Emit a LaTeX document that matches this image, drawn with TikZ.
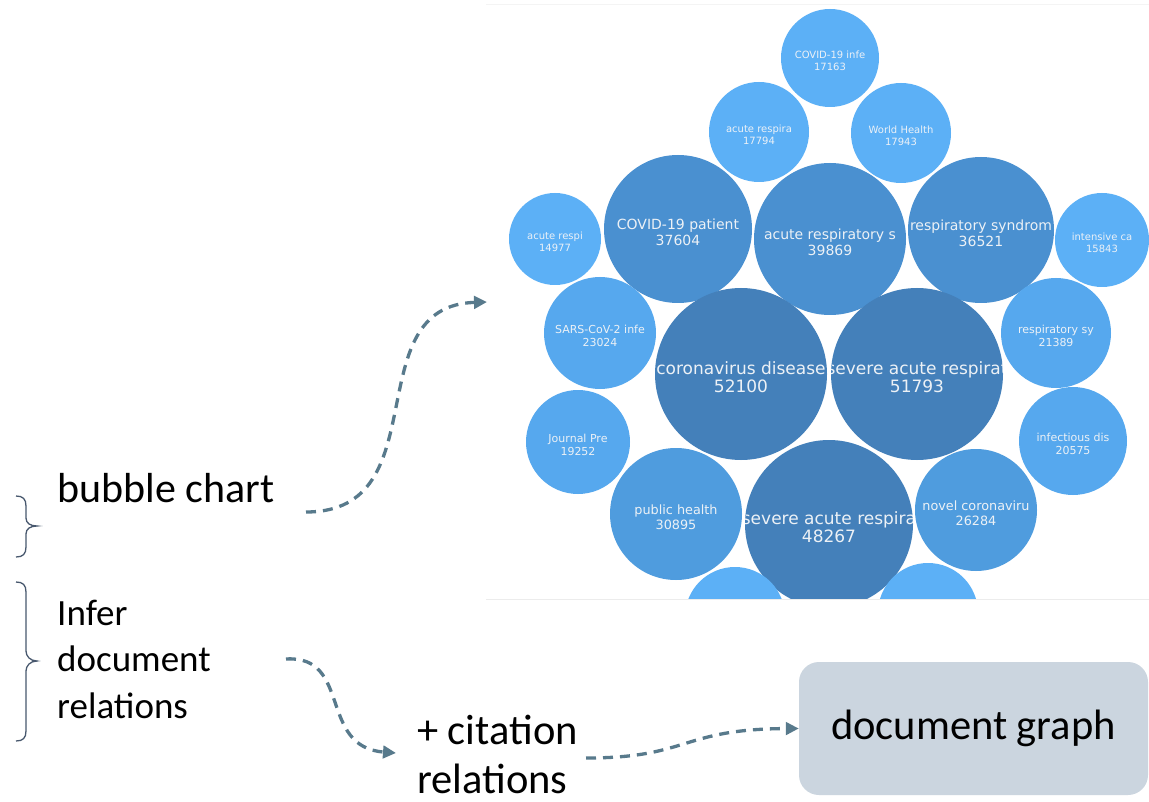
\documentclass[tikz,border=0pt]{standalone}
\usepackage{fontspec}
\setmainfont{Carlito}
\newfontfamily\chartfont{DejaVu Sans}
\usetikzlibrary{arrows.meta,calc}
\definecolor{arrowc}{RGB}{88,122,140}
\definecolor{bracec}{RGB}{72,88,110}
\definecolor{bubA}{RGB}{92,176,246}
\definecolor{bubB}{RGB}{86,168,238}
\definecolor{bubC}{RGB}{79,156,222}
\definecolor{bubD}{RGB}{74,144,208}
\definecolor{bubE}{RGB}{68,128,186}
\definecolor{boxc}{RGB}{203,213,223}
\definecolor{btext}{RGB}{236,241,246}
\definecolor{framec}{RGB}{236,236,236}
\tikzset{
  bubtxt/.style={text=btext, align=center, inner sep=0pt},
  bubS/.style={bubtxt, font=\chartfont\fontsize{10pt}{11.5pt}\selectfont},
  bubM/.style={bubtxt, font=\chartfont\fontsize{11pt}{12.5pt}\selectfont},
  bubML/.style={bubtxt, font=\chartfont\fontsize{12.8pt}{14.5pt}\selectfont},
  bubL/.style={bubtxt, font=\chartfont\fontsize{14pt}{16pt}\selectfont},
  bubXL/.style={bubtxt, font=\chartfont\fontsize{17pt}{18.5pt}\selectfont},
  lblbig/.style={inner sep=0pt, anchor=base west, font=\fontsize{42pt}{48pt}\selectfont},
  lblmid/.style={inner sep=0pt, anchor=base west, font=\fontsize{37pt}{44pt}\selectfont},
  lblcit/.style={inner sep=0pt, anchor=base west, font=\fontsize{42.5pt}{48pt}\selectfont},
  graphbox/.style={fill=boxc, rounded corners=20pt, minimum width=349pt, minimum height=133pt, inner sep=0pt, font=\fontsize{42.5pt}{48pt}\selectfont},
  flow/.style={draw=arrowc, line width=3.3pt, dash pattern=on 10pt off 7pt, -{Triangle[length=13pt,width=12.5pt]}},
  bracestyle/.style={draw=bracec, line width=1.3pt}
}
\newcommand\bubbleat[7]{%
  \fill[#5] (#2,#3) circle (#4pt);
  \begin{scope}
    \clip (#2,#3) circle (#4pt);
    \node[#6] (#1) at (#2,#3+3) {#7};
  \end{scope}}
\begin{document}
\begin{tikzpicture}[x=1pt,y=-1pt]
\useasboundingbox (0,0) rectangle (1149,802);
\fill[white] (0,0) rectangle (1149,802);
% chart frame lines
\draw[framec, line width=1pt] (486,599) -- (1149,599);
\draw[framec!60, line width=1pt] (486,5) -- (1149,5);
% bubble chart
\begin{scope}
\clip (486,0) rectangle (1149,598.5);
\bubbleat{b1}{830}{58}{49}{bubA}{bubS}{COVID-19 infe\\17163}
\bubbleat{b2}{759}{132}{50}{bubA}{bubS}{acute respira\\17794}
\bubbleat{b3}{901}{133}{50}{bubA}{bubS}{World Health\\17943}
\bubbleat{b4}{678}{229}{74}{bubD}{bubL}{COVID-19 patient\\37604}
\bubbleat{b5}{830}{239}{76}{bubD}{bubL}{acute respiratory s\\39869}
\bubbleat{b6}{981}{230}{73}{bubD}{bubL}{respiratory syndrom\\36521}
\bubbleat{b7}{555}{239}{46}{bubA}{bubS}{acute respi\\14977}
\bubbleat{b8}{1102}{240}{47}{bubA}{bubS}{intensive ca\\15843}
\bubbleat{b9}{600}{333}{56}{bubB}{bubM}{SARS-CoV-2 infe\\23024}
\bubbleat{b10}{741}{374}{86}{bubE}{bubXL}{coronavirus disease\\52100}
\bubbleat{b11}{917}{374}{86}{bubE}{bubXL}{severe acute respirat\\51793}
\bubbleat{b12}{1056}{333}{55}{bubB}{bubM}{respiratory sy\\21389}
\bubbleat{b13}{578}{442}{52}{bubB}{bubM}{Journal Pre\\19252}
\bubbleat{b14}{1073}{441}{54}{bubB}{bubM}{infectious dis\\20575}
\bubbleat{b15}{676}{514}{66}{bubC}{bubML}{public health\\30895}
\bubbleat{b16}{829}{524}{84}{bubE}{bubXL}{severe acute respira\\48267}
\bubbleat{b17}{976}{510}{61}{bubC}{bubML}{novel coronaviru\\26284}
\bubbleat{b18}{735}{617}{50}{bubA}{bubS}{}
\bubbleat{b19}{928}{613}{50}{bubA}{bubS}{}
\end{scope}
% braces
\draw[bracestyle] (16,496) .. controls (23,496) and (26,499) .. (26,506) -- (26,518)
  .. controls (26,523) and (30,526) .. (37,526) .. controls (30,526) and (26,529) .. (26,534)
  -- (26,547) .. controls (26,554) and (23,557) .. (16,557);
\draw[bracestyle] (16,582) .. controls (23,582) and (26,585) .. (26,592) -- (26,651)
  .. controls (26,656) and (30,661) .. (37,661) .. controls (30,661) and (26,666) .. (26,671)
  -- (26,731) .. controls (26,738) and (23,741) .. (16,741);
% labels
\node[lblbig] (bubble) at (57,502) {bubble chart};
\node[lblmid] (infer) at (57,625) {Infer};
\node[lblmid] (doc) at (57,671) {document};
\node[lblmid] (rel) at (57,718) {relations};
\node[lblcit] (cit) at (417,744) {+ citation};
\node[lblcit] (citrel) at (417,793) {relations};
\node[graphbox] (graph) at (973.5,728.5) {document graph};
% connectors
\coordinate (a1s) at (306,512);
\coordinate (a1e) at (487,302);
\coordinate (a2s) at (286,659);
\coordinate (a2e) at (396,753);
\coordinate (a3s) at (586,758);
\draw[flow] (a1s) .. controls (440,512) and (355,306) .. (a1e);
\draw[flow] (a2s) .. controls (352,655) and (318,747) .. (a2e);
\draw[flow] (a3s) .. controls (690,758) and (680,729) .. (graph.west);
\end{tikzpicture}
\end{document}
